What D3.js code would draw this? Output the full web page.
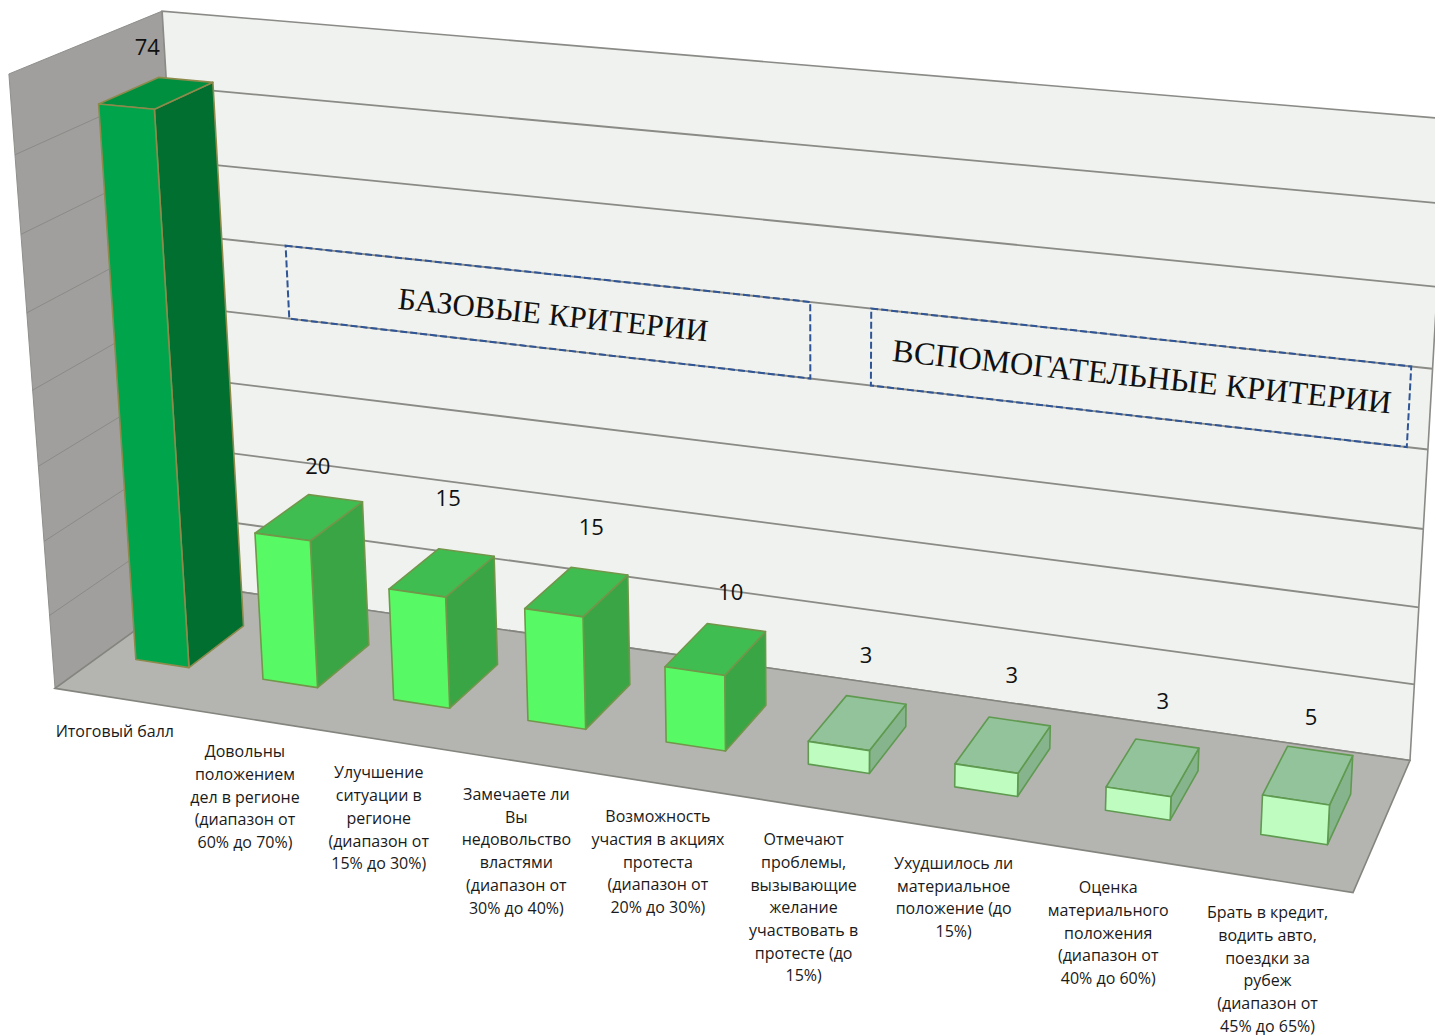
<!DOCTYPE html>
<html><head><meta charset="utf-8">
<script src="https://cdn.jsdelivr.net/npm/d3@7/dist/d3.min.js"></script>
<style>html,body{margin:0;background:#fff}svg{display:block}</style></head>
<body><svg id="c" width="1435" height="1036"></svg>
<script>
// ---- data ----
const categories = [
 ["Итоговый балл"],
 ["Довольны","положением","дел в регионе","(диапазон от","60% до 70%)"],
 ["Улучшение","ситуации в","регионе","(диапазон от","15% до 30%)"],
 ["Замечаете ли","Вы","недовольство","властями","(диапазон от","30% до 40%)"],
 ["Возможность","участия в акциях","протеста","(диапазон от","20% до 30%)"],
 ["Отмечают","проблемы,","вызывающие","желание","участвовать в","протесте (до","15%)"],
 ["Ухудшилось ли","материальное","положение (до","15%)"],
 ["Оценка","материального","положения","(диапазон от","40% до 60%)"],
 ["Брать в кредит,","водить авто,","поездки за","рубеж","(диапазон от","45% до 65%)"]
];
const values = [74,20,15,15,10,3,3,3,5];
const groups = [0,1,1,1,1,2,2,2,2];
const valueMax = 80, gridCount = 8;
const annotations = [
 {text:"БАЗОВЫЕ КРИТЕРИИ", from:0.098, to:0.536, lo:40, hi:50, dx:10, dy:7, size:31},
 {text:"ВСПОМОГАТЕЛЬНЫЕ КРИТЕРИИ", from:0.584, to:0.985, lo:40, hi:50, dx:8, dy:3, size:32.2}
];
// ---- styles ----
const palette = [
 {front:"#00a54b",top:"#008f3f",side:"#006f30",edge:"#8d8a4c"},
 {front:"#57fa64",top:"#40bd50",side:"#3aa545",edge:"#72964a"},
 {front:"#bffcc0",top:"#93c39a",side:"#86b48c",edge:"#5f9a50"}
];
const valueNudge = [[-7,-48],[10,-53],[7,-76],[15,-66],[15,-58],[8,-68],[8,-70],[9,-66],[2,-57]];

// ---- projection: unit box (x,y,z) to the page, calibrated on the visible corners of the box ----
const calib = [
 [0,0,0, 55,688],[1,0,0,1353,893],[0,0,1,197,586],[1,0,1,1410,760],
 [0,1,0, 9,74],[0,1,1,162,11],[1,1,1,1447,119]
];
function solveCamera(pts){
  const A=[],b=[];
  pts.forEach(([X,Y,Z,u,v])=>{
    A.push([X,Y,Z,1,0,0,0,0,-u*X,-u*Y,-u*Z]);b.push(u);
    A.push([0,0,0,0,X,Y,Z,1,-v*X,-v*Y,-v*Z]);b.push(v);
  });
  const n=11,M=d3.range(n).map(i=>d3.range(n+1).map(j=>{
    let s=0;A.forEach((r,k)=>{s+=r[i]*(j<n?r[j]:b[k]);});return s+(i===j?1e-9:0);}));
  for(let c=0;c<n;c++){
    let p=c;for(let r=c+1;r<n;r++)if(Math.abs(M[r][c])>Math.abs(M[p][c]))p=r;
    [M[c],M[p]]=[M[p],M[c]];
    for(let r=0;r<n;r++)if(r!==c){const f=M[r][c]/M[c][c];for(let j=c;j<=n;j++)M[r][j]-=f*M[c][j];}
  }
  return M.map((r,i)=>r[n]/r[i]);
}
const m=solveCamera(calib);
const proj=(x,y,z)=>{const w=m[8]*x+m[9]*y+m[10]*z+1;
  return [(m[0]*x+m[1]*y+m[2]*z+m[3])/w,(m[4]*x+m[5]*y+m[6]*z+m[7])/w];};

// ---- scales ----
const xBand=d3.scaleBand().domain(d3.range(categories.length)).range([0,1]).paddingInner(0.58).paddingOuter(0.27);
const xCenter=i=>xBand(i)+xBand.bandwidth()/2;
const xStep=d3.scaleLinear().domain([0,categories.length]).range([0,1]);
const yVal=d3.scaleLinear().domain([0,valueMax]).range([0,1]);
const zFront=d3.scaleLinear().domain([0,8]).range([0.315,0.295]);
const zBack=d3.scaleLinear().domain([0,8]).range([0.715,0.68]);

const svg=d3.select("#c");
const poly=d3.line();
const face=(pts)=>poly(pts)+"Z";

// walls
svg.append("path").attr("d",face([proj(0,0,0),proj(0,0,1),proj(0,1,1),proj(0,1,0)])).attr("fill","#a09f9d").attr("stroke","#8f8f8c");
svg.append("path").attr("d",face([proj(0,0,1),proj(1,0,1),proj(1,1,1),proj(0,1,1)])).attr("fill","#eff2ee").attr("stroke","#8a8a87").attr("stroke-width",1.6);
// gridlines
const ticks=yVal.ticks(gridCount).filter(t=>t>0&&t<valueMax);
svg.append("g").selectAll("path").data(ticks).join("path")
  .attr("d",t=>poly([proj(0,yVal(t),0),proj(0,yVal(t),1)])).attr("fill","none").attr("stroke","#8a8a87").attr("stroke-width",1);
svg.append("g").selectAll("path").data(ticks).join("path")
  .attr("d",t=>poly([proj(0,yVal(t),1),proj(1,yVal(t),1)])).attr("fill","none").attr("stroke","#8a8a86").attr("stroke-width",1.8);
// floor
svg.append("path").attr("d",face([proj(0,0,0),proj(1,0,0),proj(1,0,1),proj(0,0,1)])).attr("fill","#b4b5b1").attr("stroke","#85857f").attr("stroke-width",1.6);

// annotations on the back wall
const ann=svg.append("g").selectAll("g").data(annotations).join("g");
ann.append("path").attr("d",d=>face([proj(d.from,yVal(d.hi),1),proj(d.to,yVal(d.hi),1),proj(d.to,yVal(d.lo),1),proj(d.from,yVal(d.lo),1)]))
  .attr("fill","none").attr("stroke","#2f5597").attr("stroke-width",2).attr("stroke-dasharray","7 3");
ann.append("text").text(d=>d.text)
  .attr("transform",d=>{const a=proj((d.from+d.to)/2,yVal(d.lo+4),1);return `translate(${a[0]+d.dx},${a[1]+d.dy}) rotate(6)`;})
  .attr("text-anchor","middle").attr("font-family","Liberation Serif").attr("font-size",d=>d.size).attr("fill","#111");

// bars
const bars=svg.append("g").selectAll("g").data(values.map((v,i)=>({v,i,c:palette[groups[i]]}))).join("g")
  .attr("stroke",d=>d.c.edge).attr("stroke-width",1.6).attr("stroke-linejoin","round");
const x0=d=>xBand(d.i), x1=d=>xBand(d.i)+xBand.bandwidth(), h=d=>yVal(d.v);
bars.append("path").attr("fill",d=>d.c.side).attr("d",d=>face([proj(x1(d),0,zFront(d.i)),proj(x1(d),0,zBack(d.i)),proj(x1(d),h(d),zBack(d.i)),proj(x1(d),h(d),zFront(d.i))]));
bars.append("path").attr("fill",d=>d.c.top).attr("d",d=>face([proj(x0(d),h(d),zFront(d.i)),proj(x1(d),h(d),zFront(d.i)),proj(x1(d),h(d),zBack(d.i)),proj(x0(d),h(d),zBack(d.i))]));
bars.append("path").attr("fill",d=>d.c.front).attr("d",d=>face([proj(x0(d),0,zFront(d.i)),proj(x1(d),0,zFront(d.i)),proj(x1(d),h(d),zFront(d.i)),proj(x0(d),h(d),zFront(d.i))]));

// value labels
svg.append("g").selectAll("text").data(values).join("text").text(d=>d)
  .attr("x",(d,i)=>proj(xCenter(i),yVal(d),0.5)[0]+valueNudge[i][0])
  .attr("y",(d,i)=>proj(xCenter(i),yVal(d),0.5)[1]+valueNudge[i][1])
  .attr("text-anchor","middle").attr("dominant-baseline","central")
  .attr("font-family","Open Sans").attr("font-size",22).attr("fill","#111");

// category labels
const lineGap=22.7;
const cat=svg.append("g").selectAll("text").data(categories).join("text")
  .attr("font-family","Open Sans").attr("font-size",16).attr("fill","#1a1a1a").attr("text-anchor","middle");
cat.each(function(lines,i){
  const p=proj(xStep(i+0.5),0,0);
  d3.select(this).selectAll("tspan").data(lines).join("tspan")
    .attr("x",p[0]-4).attr("y",(l,k)=>p[1]+38.5+k*lineGap).text(l=>l);
});
</script></body></html>
